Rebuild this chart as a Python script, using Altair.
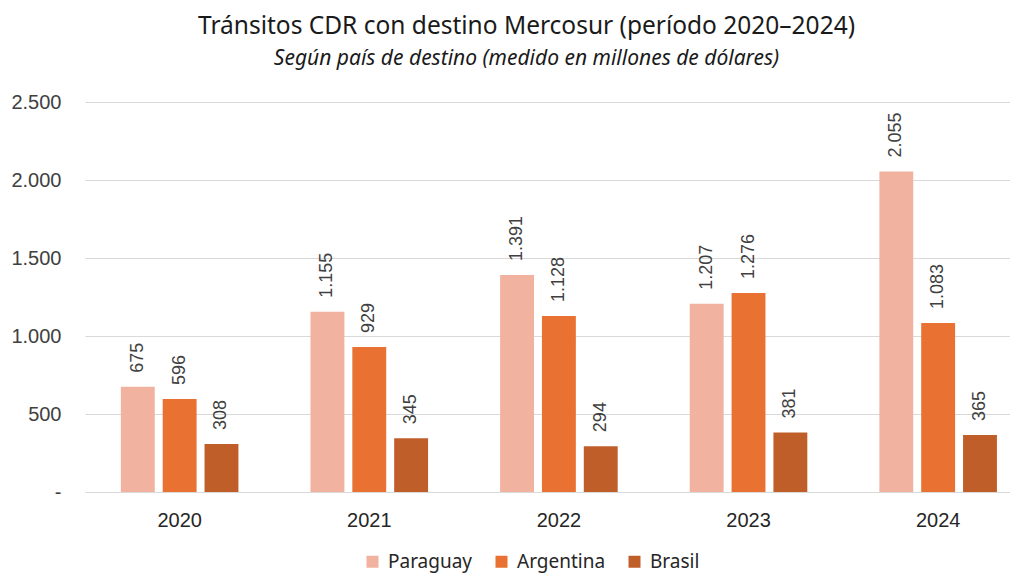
import altair as alt
import pandas as pd

years = ["2020", "2021", "2022", "2023", "2024"]
countries = ["Paraguay", "Argentina", "Brasil"]
paraguay = [675, 1155, 1391, 1207, 2055]
argentina = [596, 929, 1128, 1276, 1083]
brasil = [308, 345, 294, 381, 365]
colors = ["#F1B3A0", "#E97132", "#C05E2A"]

rows = []
for i, y in enumerate(years):
    for c, vals in zip(countries, [paraguay, argentina, brasil]):
        rows.append({"year": y, "country": c, "value": vals[i]})
df = pd.DataFrame(rows)

xenc = alt.X("year:N", title=None,
             scale=alt.Scale(paddingInner=0.38, paddingOuter=0.129, align=0.733),
             axis=alt.Axis(labelAngle=0, labelFont="Liberation Sans", labelFontSize=20,
                           labelColor="#262626", labelPadding=18, ticks=False, grid=False,
                           domainColor="#D9D9D9", domainWidth=1.2))
xoff = alt.XOffset("country:N", sort=countries,
                   scale=alt.Scale(paddingInner=0.19, paddingOuter=0))
yenc = alt.Y("value:Q", title=None,
             scale=alt.Scale(domain=[0, 2500]),
             axis=alt.Axis(values=[0, 500, 1000, 1500, 2000, 2500],
                           labelExpr="datum.value == 0 ? '-' : replace(format(datum.value, ','), ',', '.')",
                           labelFont="Liberation Sans", labelFontSize=20, labelColor="#404040",
                           labelPadding=24, ticks=False, domain=False,
                           gridColor="#D9D9D9", gridWidth=1.2))

base = alt.Chart(df).encode(x=xenc, xOffset=xoff, y=yenc)

bars = base.mark_bar().encode(
    color=alt.Color("country:N", sort=countries,
                    scale=alt.Scale(domain=countries, range=colors),
                    legend=alt.Legend(title=None, orient="none", direction="horizontal",
                                      legendX=278, legendY=450,
                                      symbolType="square", symbolSize=144,
                                      symbolStrokeWidth=0,
                                      labelFont="Noto Sans", labelFontSize=19,
                                      labelColor="#262626", columnPadding=19,
                                      labelOffset=6))
)

labels = base.transform_calculate(
    lbl="replace(format(datum.value, ','), ',', '.')"
).mark_text(angle=270, align="left", baseline="middle", dx=14,
            font="Liberation Sans", fontSize=18, color="#404040").encode(
    text="lbl:N"
)

chart = (bars + labels).properties(
    width=925, height=390,
    background="white",
    padding={"left": 2, "top": 5, "right": 0, "bottom": 5},
    title=alt.TitleParams(
        text="Tránsitos CDR con destino Mercosur (período 2020–2024)",
        subtitle="Según país de destino (medido en millones de dólares)",
        anchor="middle", font="Noto Sans", fontSize=24.5, fontWeight="normal",
        color="#1a1a1a", subtitleFont="Noto Sans", subtitleFontSize=21,
        subtitleFontStyle="italic", subtitleColor="#1a1a1a", subtitlePadding=9,
        offset=22, dx=-21)
).configure_view(stroke="transparent", strokeWidth=0)

chart.save("out.html", embed_options={"renderer": "svg", "actions": False})
